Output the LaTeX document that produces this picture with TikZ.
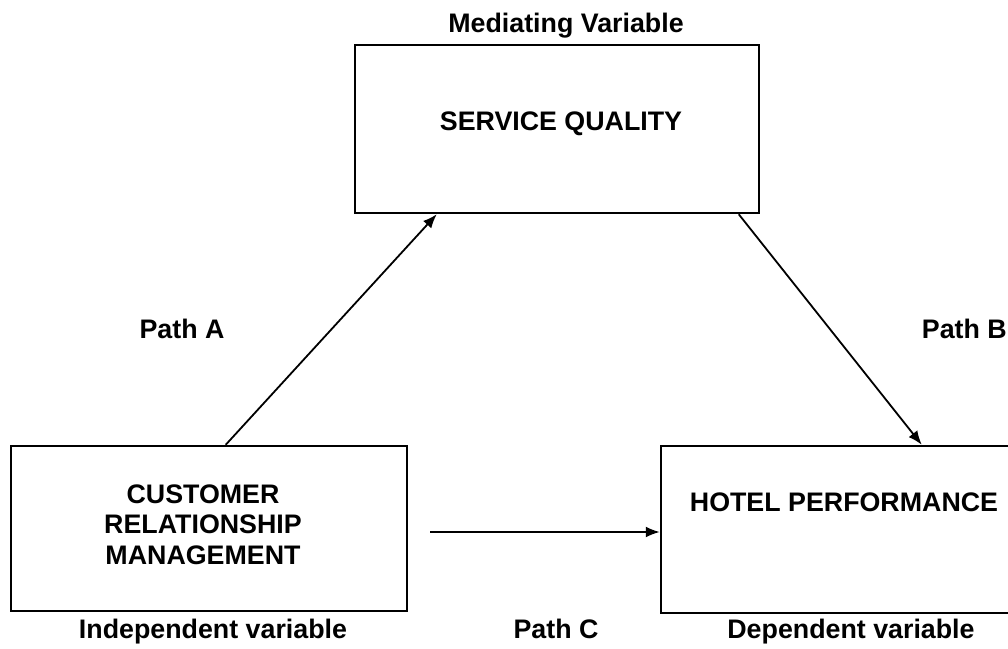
\documentclass[tikz,border=0pt]{standalone}
\usepackage{fontspec}
\setmainfont{Liberation Sans}
\usetikzlibrary{calc,arrows.meta}
\begin{document}
\begin{tikzpicture}[x=1pt,y=-1pt,
  box/.style={draw,line width=2.5pt,inner sep=0pt,minimum width=#1},
  lbl/.style={font=\fontsize{26.8}{30.5}\selectfont\bfseries,inner sep=0pt,anchor=base},
  arr/.style={line width=1.8pt,-{Latex[length=14pt,width=11pt]}}]
\useasboundingbox (0,0) rectangle (1008,648);
\clip (0,0) rectangle (1008,648);
\node[box=404pt,minimum height=168pt] (sq) at (557,129) {};
\node[box=396pt,minimum height=165pt] (crm) at (209,528.5) {};
\node[box=379pt,minimum height=167pt] (hp) at (850.5,529.5) {};
\node[lbl] (med) at (566,32) {Mediating Variable};
\node[lbl] (sqt) at (561,130) {SERVICE QUALITY};
\node[lbl,align=center] (crmt) at (203,564) {CUSTOMER\\RELATIONSHIP\\MANAGEMENT};
\node[lbl] (hpt) at (844,511) {HOTEL PERFORMANCE};
\node[lbl] (ind) at (213,638) {Independent variable};
\node[lbl] (dep) at (851,638) {Dependent variable};
\node[lbl] (pa) at (182,338) {Path A};
\node[lbl,anchor=base east] (pb) at (1007,338) {Path B};
\node[lbl] (pc) at (556,638) {Path C};
\coordinate (cs) at (430,532);
\draw[arr] ($(crm.north west)+(216,0)$) -- ($(sq.south west)+(83,0)$);
\draw[arr] ($(sq.south west)+(385,0)$) -- ($(hp.north west)+(262,0)$);
\draw[arr] (cs) -- (cs -| hp.west);
\end{tikzpicture}
\end{document}
